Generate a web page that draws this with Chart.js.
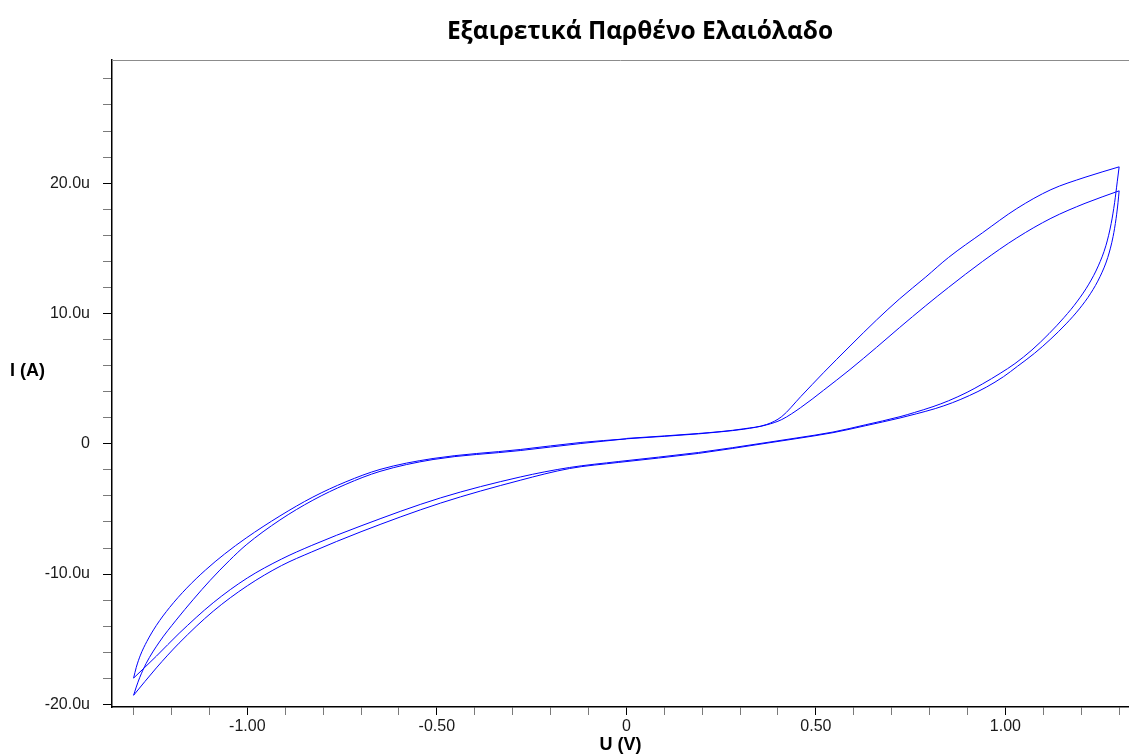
<!DOCTYPE html>
<html>
<head>
<meta charset="utf-8">
<title>Εξαιρετικά Παρθένο Ελαιόλαδο</title>
<script src="https://cdn.jsdelivr.net/npm/chart.js@4.4.1/dist/chart.umd.min.js"></script>
<style>
	html, body { margin: 0; padding: 0; background: #fff; }
	#wrap { width: 1129px; height: 756px; position: relative; }
</style>
</head>
<body>
<div id="wrap"><canvas id="cv"></canvas></div>
<script>
// τίτλοι
var chartTitle = 'Εξαιρετικά Παρθένο Ελαιόλαδο';
var xTitle = 'U (V)';
var yTitle = 'I (A)';

// υποδιαιρέσεις αξόνων (V και μA)
var xTicks = [-1.3, -1.2, -1.1, -1.0, -0.9, -0.8, -0.7, -0.6, -0.5, -0.4, -0.3, -0.2, -0.1, 0,
	0.1, 0.2, 0.3, 0.4, 0.5, 0.6, 0.7, 0.8, 0.9, 1.0, 1.1, 1.2, 1.3];
var yTicks = [-20, -18, -16, -14, -12, -10, -8, -6, -4, -2, 0, 2, 4, 6, 8, 10, 12, 14, 16, 18, 20, 22, 24, 26, 28];

// 1ος κύκλος: άνοδος 0 -> 1.3 V
var sweep1U = [0.00, 0.10, 0.19, 0.25, 0.31, 0.37, 0.41, 0.46, 0.52, 0.59, 0.66, 0.72, 0.79, 0.85, 0.94, 1.03, 1.12, 1.21, 1.30];
var sweep1I = [0.41, 0.60, 0.79, 0.94, 1.15, 1.48, 2.09, 3.62, 5.45, 7.50, 9.50, 11.10, 12.80, 14.30, 16.20, 18.05, 19.50, 20.45, 21.25];
// 1ος κύκλος: κάθοδος 1.3 -> -1.3 V
var sweep2U = [1.300, 1.295, 1.288, 1.279, 1.265, 1.245, 1.220, 1.190, 1.155, 1.115, 1.070, 1.025, 0.986, 0.940, 0.899, 0.850, 0.809, 0.760, 0.722, 0.630,
	0.545, 0.450, 0.371, 0.190, -0.020, -0.150, -0.280, -0.490, -0.700, -0.830, -0.910, -1.000, -1.090, -1.180, -1.240, -1.300];
var sweep2I = [21.25, 20.10, 18.50, 16.90, 15.20, 13.65, 12.25, 10.95, 9.70, 8.45, 7.20, 6.15, 5.40, 4.60, 3.95, 3.30, 2.85, 2.40, 2.08, 1.45,
	0.90, 0.45, 0.10, -0.67, -1.36, -1.82, -2.55, -4.15, -6.30, -7.80, -8.85, -10.30, -12.20, -14.55, -16.30, -17.98];
// 1ος κύκλος: επιστροφή -1.3 -> 0 V
var sweep3U = [-1.300, -1.293, -1.282, -1.265, -1.240, -1.205, -1.160, -1.110, -1.060, -1.003, -0.914, -0.827, -0.740, -0.650, -0.510, -0.280, -0.120, 0.000];
var sweep3I = [-17.98, -17.16, -16.22, -15.17, -13.94, -12.56, -11.08, -9.68, -8.46, -7.23, -5.54, -4.09, -2.92, -1.97, -1.13, -0.44, 0.10, 0.38];

// 2ος κύκλος: άνοδος 0 -> 1.3 V
var sweep4U = [0.00, 0.10, 0.19, 0.25, 0.31, 0.37, 0.41, 0.46, 0.52, 0.59, 0.66, 0.72, 0.79, 0.85, 0.94, 1.03, 1.12, 1.21, 1.30];
var sweep4I = [0.38, 0.57, 0.76, 0.92, 1.12, 1.45, 1.86, 2.78, 4.10, 5.70, 7.40, 8.90, 10.60, 12.00, 14.00, 15.80, 17.30, 18.45, 19.41];
// 2ος κύκλος: κάθοδος 1.3 -> -1.3 V
var sweep5U = [1.300, 1.297, 1.292, 1.284, 1.270, 1.250, 1.225, 1.195, 1.160, 1.120, 1.077, 1.032, 0.995, 0.950, 0.905, 0.860, 0.815, 0.765, 0.722, 0.630,
	0.545, 0.450, 0.371, 0.190, -0.020, -0.150, -0.280, -0.490, -0.700, -0.830, -0.910, -1.000, -1.090, -1.180, -1.240, -1.300];
var sweep5I = [19.41, 18.50, 17.30, 15.90, 14.30, 12.85, 11.55, 10.35, 9.20, 8.05, 6.95, 5.95, 5.15, 4.35, 3.70, 3.15, 2.70, 2.30, 1.98, 1.38,
	0.85, 0.40, 0.05, -0.74, -1.43, -1.90, -2.80, -4.55, -6.75, -8.30, -9.35, -10.90, -12.85, -15.30, -17.20, -19.30];
// 2ος κύκλος: επιστροφή -1.3 -> 0 V
var sweep6U = [-1.300, -1.293, -1.284, -1.267, -1.232, -1.188, -1.142, -1.098, -1.047, -1.003, -0.914, -0.827, -0.740, -0.650, -0.510, -0.280, -0.120, 0.000];
var sweep6I = [-19.30, -18.67, -17.95, -16.86, -15.21, -13.54, -11.93, -10.48, -8.95, -7.76, -5.85, -4.33, -3.11, -2.12, -1.21, -0.52, 0.02, 0.38];

function toPoints(u, i) {
	return u.map(function(v, k) { return { x: v, y: i[k] }; });
}

function isMajorX(v) { return Math.abs(v * 2 - Math.round(v * 2)) < 1e-6; }
function isMajorY(v) { return v % 10 === 0; }

// πλαίσιο, τίτλος και οριζόντια ετικέτα του άξονα y
var framePlugin = {
	id: 'frame',
	afterDraw: function(chart) {
		var c = chart.ctx;
		var a = chart.chartArea;
		c.save();
		c.strokeStyle = '#8c8c8c';
		c.lineWidth = 1;
		c.beginPath();
		c.moveTo(a.left, a.top + 0.5);
		c.lineTo(a.right, a.top + 0.5);
		c.stroke();

		c.fillStyle = '#000';
		c.textBaseline = 'middle';
		c.textAlign = 'center';
		c.font = 'bold 24.5px "Open Sans"';
		c.fillText(chartTitle, 640, 32);

		c.textAlign = 'left';
		c.font = 'bold 18px "Liberation Sans", Arial';
		c.fillText(yTitle, 10, 371);
		c.restore();
	}
};

window.onload = function() {
	var sweeps = [
		toPoints(sweep1U, sweep1I), toPoints(sweep2U, sweep2I), toPoints(sweep3U, sweep3I),
		toPoints(sweep4U, sweep4I), toPoints(sweep5U, sweep5I), toPoints(sweep6U, sweep6I)
	];
	var datasets = sweeps.map(function(pts) {
		return {
			data: pts,
			showLine: true,
			borderColor: '#0000ff',
			borderWidth: 1,
			pointRadius: 0,
			cubicInterpolationMode: 'monotone',
			fill: false
		};
	});

	var tickFont = { family: '"Liberation Sans", Arial', size: 16 };

	new Chart(document.getElementById('cv').getContext('2d'), {
		type: 'scatter',
		data: { datasets: datasets },
		options: {
			responsive: true,
			maintainAspectRatio: false,
			animation: false,
			layout: { padding: { top: 60, left: 0, right: 0, bottom: 0 } },
			plugins: {
				legend: { display: false },
				tooltip: { enabled: false }
			},
			scales: {
				x: {
					type: 'linear',
					min: -1.357,
					max: 1.326,
					afterBuildTicks: function(s) {
						s.ticks = xTicks.map(function(v) { return { value: v }; });
					},
					afterFit: function(s) { s.height = 49; },
					ticks: {
						autoSkip: false,
						maxRotation: 0,
						padding: 2,
						color: '#1a1a1a',
						font: tickFont,
						callback: function(v) {
							if (!isMajorX(v)) return '';
							return v === 0 ? '0' : v.toFixed(2);
						}
					},
					grid: {
						drawOnChartArea: false,
						drawTicks: true,
						tickLength: 8,
						tickColor: function(ctx) {
							return ctx.tick && isMajorX(ctx.tick.value) ? '#000' : '#7a7a7a';
						}
					},
					border: { color: '#000', width: 1.5 },
					title: {
						display: true,
						text: xTitle,
						color: '#000',
						font: { family: '"Liberation Sans", Arial', size: 18, weight: 'bold' },
						padding: { top: 0, bottom: 0 }
					}
				},
				y: {
					type: 'linear',
					min: -20.2,
					max: 29.45,
					afterBuildTicks: function(s) {
						s.ticks = yTicks.map(function(v) { return { value: v }; });
					},
					afterFit: function(s) { s.width = 112; },
					ticks: {
						autoSkip: false,
						padding: 13,
						color: '#1a1a1a',
						font: tickFont,
						callback: function(v) {
							if (!isMajorY(v)) return '';
							return v === 0 ? '0' : v.toFixed(1) + 'u';
						}
					},
					grid: {
						drawOnChartArea: false,
						drawTicks: true,
						tickLength: 9,
						tickColor: function(ctx) {
							return ctx.tick && isMajorY(ctx.tick.value) ? '#000' : '#7a7a7a';
						}
					},
					border: { color: '#000', width: 1.5 }
				}
			}
		},
		plugins: [framePlugin]
	});
};
</script>
</body>
</html>
